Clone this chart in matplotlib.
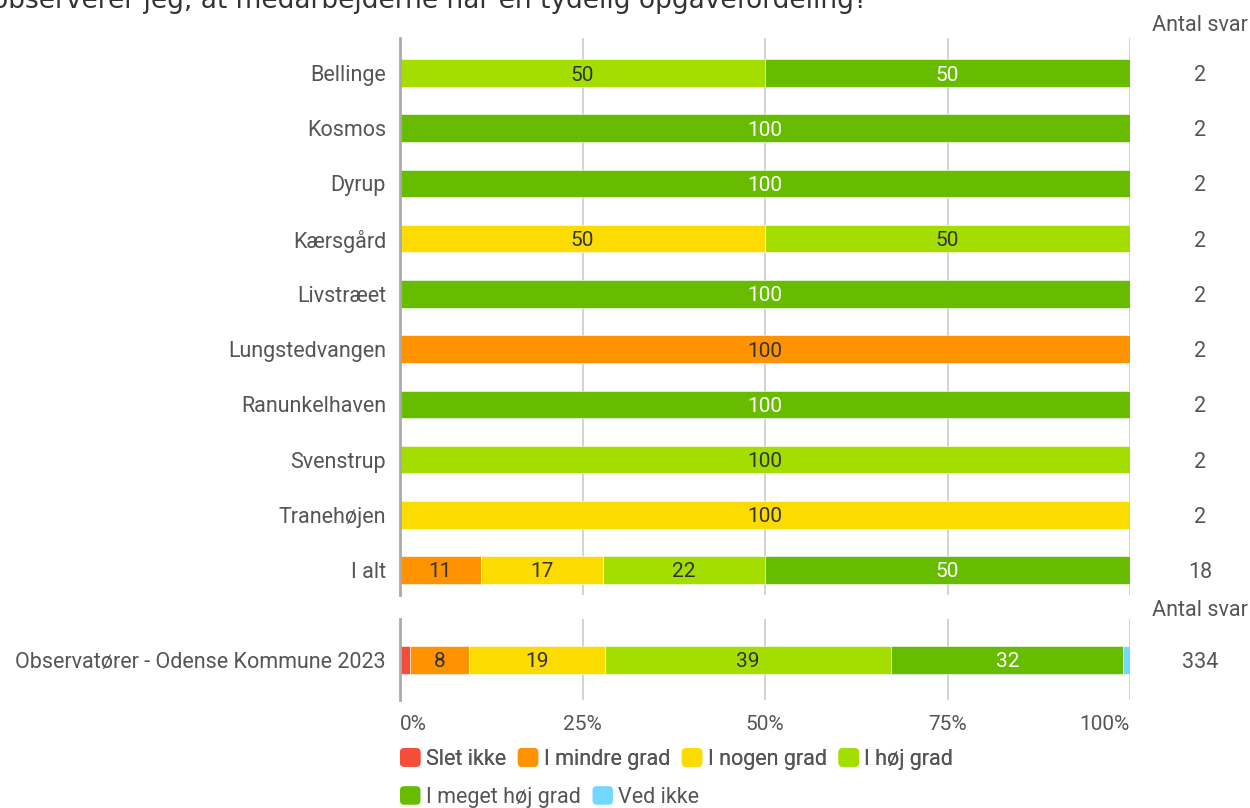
import matplotlib
matplotlib.use("Agg")
import matplotlib.pyplot as plt
import numpy as np
from matplotlib.patches import FancyBboxPatch, Patch
from matplotlib.legend_handler import HandlerPatch
import matplotlib.transforms as mtransforms

plt.rcParams['font.family'] = ['Roboto', 'DejaVu Sans']

title = "observerer jeg, at medarbejderne har en tydelig opgavefordeling?"
categories = ["Bellinge", "Kosmos", "Dyrup", "Kærsgård", "Livstræet",
              "Lungstedvangen", "Ranunkelhaven", "Svenstrup", "Tranehøjen", "I alt"]
series_names = ["Slet ikke", "I mindre grad", "I nogen grad", "I høj grad",
                "I meget høj grad", "Ved ikke"]
slet_ikke = [0, 0, 0, 0, 0, 0, 0, 0, 0, 0]
i_mindre_grad = [0, 0, 0, 0, 0, 100, 0, 0, 0, 11.1]
i_nogen_grad = [0, 0, 0, 50, 0, 0, 0, 0, 100, 16.7]
i_hoj_grad = [50, 0, 0, 50, 0, 0, 0, 100, 0, 22.2]
i_meget_hoj_grad = [50, 100, 100, 0, 100, 0, 100, 0, 0, 50]
ved_ikke = [0, 0, 0, 0, 0, 0, 0, 0, 0, 0]
antal_svar = [2, 2, 2, 2, 2, 2, 2, 2, 2, 18]

ref_label = "Observatører - Odense Kommune 2023"
ref_values = [1.4, 8.1, 18.6, 39.2, 31.8, 0.9]
ref_antal = 334

colors = ["#F44E3B", "#FE9200", "#FCDC00", "#A4DD00", "#68BC00", "#73D8FF"]
text_colors = ["#333333", "#333333", "#333333", "#333333", "#ffffff", "#333333"]
xticks = [0, 25, 50, 75, 100]
xticklabels = ["0%", "25%", "50%", "75%", "100%"]

fig = plt.figure(figsize=(12.5, 8.08), dpi=100)
W, H = 1250, 808

def fx(px):
    return px / W

def fy(py):
    return 1 - py / H

ax = fig.add_axes([fx(400), fy(595), fx(1130) - fx(400), fy(38) - fy(595)])
ax2 = fig.add_axes([fx(400), fy(700), fx(1130) - fx(400), fy(619) - fy(700)])

label_col = "#555555"
grid_col = "#cccccc"
FS = 15.5

def style(a):
    a.set_xlim(0, 100)
    a.set_xticks(xticks)
    a.grid(axis='x', color=grid_col, linewidth=1.2, zorder=0)
    a.set_axisbelow(True)
    for s in ['top', 'right', 'bottom']:
        a.spines[s].set_visible(False)
    a.spines['left'].set_color('#aaaaaa')
    a.spines['left'].set_linewidth(2)
    a.spines['left'].set_zorder(5)
    a.tick_params(axis='both', length=0)
    a.tick_params(axis='y', labelsize=FS, labelcolor=label_col, pad=10)

style(ax)
style(ax2)

bar_h = 0.5
series = [slet_ikke, i_mindre_grad, i_nogen_grad, i_hoj_grad, i_meget_hoj_grad, ved_ikke]
y = np.arange(len(categories))
left = np.zeros(len(categories))
for vals, c, tc in zip(series, colors, text_colors):
    vals = np.array(vals, dtype=float)
    ax.barh(y, vals, left=left, height=bar_h, color=c, edgecolor='white',
            linewidth=0.4, zorder=2)
    for yi, v, l in zip(y, vals, left):
        if v >= 5:
            ax.text(l + v / 2, yi, f"{int(round(v))}", ha='center',
                    va='center_baseline', fontsize=15, color=tc, zorder=3)
    left += vals
ax.set_ylim(9.453, -0.634)
ax.set_yticks(y)
ax.set_yticklabels(categories)
ax.tick_params(axis='x', labelbottom=False)

l2 = 0.0
for v, c, tc in zip(ref_values, colors, text_colors):
    ax2.barh([0], [v], left=[l2], height=bar_h, color=c, edgecolor='white',
             linewidth=0.4, zorder=2)
    if v >= 5:
        ax2.text(l2 + v / 2, 0, f"{int(round(v))}", ha='center',
                 va='center_baseline', fontsize=15, color=tc, zorder=3)
    l2 += v
ax2.set_ylim(0.725, -0.743)
ax2.set_yticks([0])
ax2.set_yticklabels([ref_label])
ax2.set_xticklabels(xticklabels)
ax2.tick_params(axis='x', labelsize=15, labelcolor=label_col, pad=11)
tl = ax2.get_xticklabels()
tl[0].set_ha('left')
tl[-1].set_ha('right')

# Antal svar column
tr = mtransforms.blended_transform_factory(fig.transFigure, ax.transData)
for yi, n in zip(y, antal_svar):
    ax.text(fx(1200), yi, str(n), transform=tr, ha='center', va='center_baseline',
            fontsize=FS, color=label_col)
tr2 = mtransforms.blended_transform_factory(fig.transFigure, ax2.transData)
ax2.text(fx(1200), 0, str(ref_antal), transform=tr2, ha='center',
         va='center_baseline', fontsize=FS, color=label_col)
fig.text(fx(1200), fy(23), "Antal svar", ha='center', va='center_baseline',
         fontsize=FS, color=label_col)
fig.text(fx(1200), fy(608), "Antal svar", ha='center', va='center_baseline',
         fontsize=FS, color=label_col)

# Title (clipped at top, as in the reference)
fig.text(fx(-8), fy(8), title, ha='left', va='baseline', fontsize=19,
         family='DejaVu Sans', color='#333333')

# Legend
def make_round(legend, orig_handle, xdescent, ydescent, width, height, fontsize):
    return FancyBboxPatch((-xdescent, -ydescent), width, height,
                          boxstyle="round,pad=0,rounding_size=3")

hm = {Patch: HandlerPatch(patch_func=make_round)}
handles = [Patch(facecolor=c, edgecolor='none') for c in colors]
common = dict(frameon=False, fontsize=FS, handlelength=0.95, handleheight=0.95,
              handletextpad=0.25, columnspacing=0.55, borderaxespad=0,
              borderpad=0, handler_map=hm, labelcolor=label_col, loc='center left')
leg1 = fig.legend(handles[:4], series_names[:4], bbox_to_anchor=(fx(400), fy(759)),
                  ncol=4, **common)
leg2 = fig.legend(handles[4:], series_names[4:], bbox_to_anchor=(fx(400), fy(797)),
                  ncol=2, **common)
fig.add_artist(leg1)

fig.savefig("out.png", dpi=100)
